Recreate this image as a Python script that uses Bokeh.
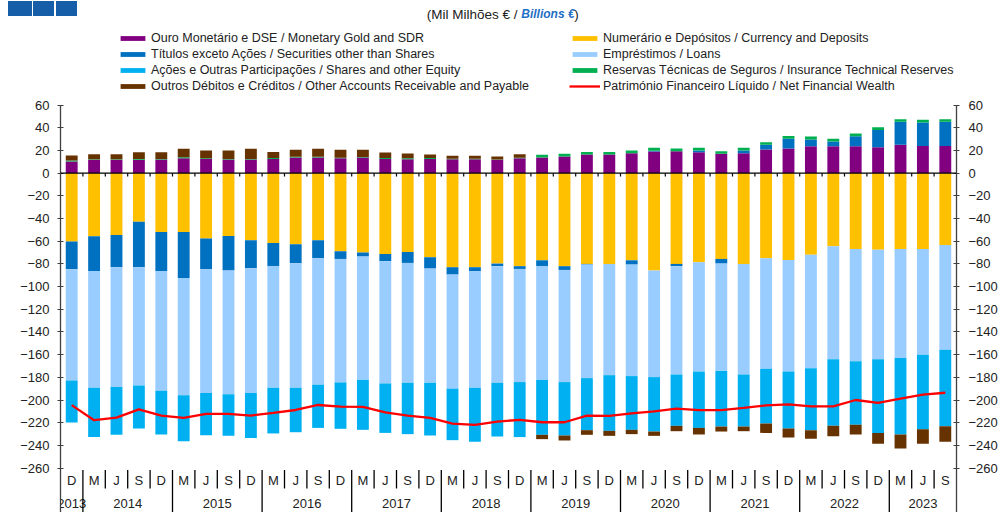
import numpy as np
from bokeh.plotting import figure
from bokeh.models import (Range1d, LinearAxis, FixedTicker, Legend, LegendItem,
                          ColumnDataSource, Span, InlineStyleSheet)
from bokeh.core.properties import value
from bokeh.embed import file_html
from bokeh.resources import INLINE

# ---------------- data (Mil Milhões € / Billions €) ----------------
quarters = ["D",
            "M", "J", "S", "D", "M", "J", "S", "D", "M", "J", "S", "D",
            "M", "J", "S", "D", "M", "J", "S", "D", "M", "J", "S", "D",
            "M", "J", "S", "D", "M", "J", "S", "D", "M", "J", "S", "D",
            "M", "J", "S"]
years = ["2013",
         "2014", "2014", "2014", "2014", "2015", "2015", "2015", "2015",
         "2016", "2016", "2016", "2016", "2017", "2017", "2017", "2017",
         "2018", "2018", "2018", "2018", "2019", "2019", "2019", "2019",
         "2020", "2020", "2020", "2020", "2021", "2021", "2021", "2021",
         "2022", "2022", "2022", "2022", "2023", "2023", "2023"]

ouro = [10.3, 11.8, 11.8, 11.8, 12.0, 13.2, 12.6, 12.0, 12.0, 12.6, 13.8, 13.8, 13.2,
        13.8, 12.6, 12.4, 12.6, 12.4, 12.4, 11.8, 13.2, 13.8, 14.7, 16.5, 16.5, 17.6,
        19.1, 19.4, 18.5, 17.1, 17.6, 20.9, 21.8, 23.8, 23.8, 23.8, 22.9, 25.0, 24.1, 24.1]
numerario = [-60.3, -55.6, -54.4, -42.9, -51.8, -51.8, -57.6, -55.3, -59.1, -61.5, -62.6,
             -59.1, -68.8, -70.0, -71.2, -69.4, -74.1, -82.9, -82.9, -79.7, -82.0, -76.8,
             -82.0, -80.0, -80.0, -76.8, -85.9, -80.0, -78.5, -75.6, -80.0, -75.0, -76.5,
             -71.8, -64.4, -66.8, -67.4, -66.8, -66.8, -63.2]
titulos = [-24.4, -30.6, -28.5, -40.0, -34.4, -40.6, -27.1, -30.6, -24.7, -20.3, -16.8,
           -15.9, -6.8, -3.5, -6.4, -9.7, -10.0, -6.5, -3.6, -2.3, -2.4, -5.0, -3.3, -0.6,
           0.0, -3.8, 0.6, -2.0, 1.5, -4.1, 2.4, 4.1, 8.5, 5.9, 4.1, 8.8, 15.3, 20.3, 20.6, 21.2]
emprestimos = [-98.0, -103.0, -105.7, -104.2, -105.6, -103.5, -109.2, -109.1, -110.1, -107.4,
               -109.8, -111.5, -108.9, -108.7, -107.8, -105.7, -100.7, -100.6, -102.7, -102.8,
               -99.8, -100.4, -98.9, -100.1, -98.1, -98.3, -93.9, -95.5, -96.4, -94.6, -97.5,
               -97.5, -98.4, -100.2, -99.6, -99.0, -96.6, -96.1, -93.2, -92.4]
acoes = [-37.2, -43.5, -42.1, -38.0, -38.6, -40.4, -37.1, -36.6, -39.7, -40.3, -39.2, -38.1,
         -40.9, -44.1, -43.6, -45.3, -46.5, -45.4, -47.6, -47.4, -48.5, -48.5, -47.1, -45.9,
         -49.1, -47.4, -48.0, -45.3, -49.7, -49.1, -45.9, -48.3, -50.2, -54.6, -58.8, -56.1,
         -65.2, -67.5, -65.7, -67.5]
reservas = [0.8, 0.5, 0.6, 0.8, 0.5, 0.8, 0.6, 0.5, 0.5, 0.8, 0.8, 0.8, 0.5, 0.5, 0.8, 0.8,
            0.8, 0.3, 0.3, 0.3, 0.5, 2.4, 2.4, 2.3, 2.3, 2.4, 2.7, 2.4, 2.4, 2.3, 2.4, 2.4,
            2.6, 2.7, 2.4, 2.4, 2.4, 2.3, 2.4, 2.3]
outros = [4.5, 4.5, 4.4, 5.9, 6.0, 7.5, 6.8, 7.5, 9.0, 5.4, 6.0, 6.9, 6.9, 6.3, 4.8, 4.2,
          3.1, 2.6, 2.6, 2.6, 3.1, -3.8, -4.4, -4.1, -4.4, -3.8, -3.8, -4.7, -5.8, -4.4,
          -4.1, -8.2, -7.9, -7.6, -9.1, -8.5, -9.4, -12.3, -12.9, -13.7]
patrimonio = [-204.5, -217.8, -215.5, -208.2, -213.7, -215.8, -212.3, -212.3, -213.7, -211.4,
              -208.8, -204.4, -205.8, -206.0, -211.0, -213.7, -215.8, -220.8, -221.9, -219.0,
              -217.5, -219.6, -219.6, -213.7, -214.0, -211.7, -210.0, -207.6, -209.0, -209.0,
              -207.0, -204.7, -203.8, -205.6, -205.6, -200.0, -202.6, -198.8, -195.3, -193.6]

yticks = [-260, -240, -220, -200, -180, -160, -140, -120, -100, -80, -60, -40, -20, 0, 20, 40, 60]

series = [
    ("Ouro Monetário e DSE / Monetary Gold and SDR", ouro, "#800080"),
    ("Numerário e Depósitos / Currency and Deposits", numerario, "#FFC000"),
    ("Títulos exceto Ações / Securities other than Shares", titulos, "#0070C0"),
    ("Empréstimos / Loans", emprestimos, "#99CCFF"),
    ("Ações e Outras Participações / Shares and other Equity", acoes, "#00B0F0"),
    ("Reservas Técnicas de Seguros / Insurance Technical Reserves", reservas, "#00B050"),
    ("Outros Débitos e Créditos / Other Accounts Receivable and Payable", outros, "#663300"),
]
line_label = "Património Financeiro Líquido / Net Financial Wealth"

FONT = "Liberation Sans"
n = len(quarters)
xc = np.arange(n) + 0.5

Y_BOT, Y_TOP = -299.2, 152.3
p = figure(width=1000, height=512, x_range=Range1d(0, n), y_range=Range1d(Y_BOT, Y_TOP),
           x_axis_type=None, y_axis_type=None, output_backend="svg",
           toolbar_location=None)
p.min_border = 0
p.min_border_left = 60
p.min_border_right = 42
p.min_border_top = 0
p.min_border_bottom = 0
p.outline_line_color = None
p.grid.visible = False
p.background_fill_color = None
p.border_fill_color = None

# decorative header squares (top-left), drawn as CSS background behind the canvas
logo_css = """
:host {
  background-color: #ffffff;
  background-image: linear-gradient(#175EA8, #175EA8), linear-gradient(#175EA8, #175EA8),
                    linear-gradient(#175EA8, #175EA8);
  background-size: 24px 15px, 21px 15px, 21px 15px;
  background-position: 8px 1px, 33px 1px, 56px 1px;
  background-repeat: no-repeat;
}
"""
p.stylesheets = [InlineStyleSheet(css=logo_css)]

# ---------------- stacked bars (positive/negative stacked separately) ----------------
pos_base = np.zeros(n)
neg_base = np.zeros(n)
renderers = {}
for label, vals, color in series:
    v = np.array(vals, dtype=float)
    bottom = np.where(v >= 0, pos_base, neg_base)
    top = bottom + v
    pos_base = np.where(v >= 0, top, pos_base)
    neg_base = np.where(v < 0, top, neg_base)
    src = ColumnDataSource(dict(x=xc, bottom=bottom, top=top))
    r = p.vbar(x="x", bottom="bottom", top="top", width=0.53, source=src,
               fill_color=color, line_color=None)
    renderers[label] = r

# zero line + small ticks between categories
p.add_layout(Span(location=0, dimension="width", line_color="#000000", line_width=1.2))
bx = np.arange(1, n)
p.segment(x0=bx, x1=bx, y0=np.zeros(n - 1), y1=np.full(n - 1, -2.8),
          line_color="#000000", line_width=1.2)

# net financial wealth
lr = p.line(xc, patrimonio, line_color="#FF0000", line_width=2.3)
renderers[line_label] = lr

# ---------------- axes ----------------
for side in ("left", "right"):
    ax = LinearAxis(ticker=FixedTicker(ticks=yticks), bounds=(Y_BOT, 60),
                    axis_line_color="#404040", axis_line_width=1.3,
                    major_tick_line_color="#404040", major_tick_in=3, major_tick_out=3,
                    minor_tick_line_color=None,
                    major_label_text_font=FONT, major_label_text_font_size="13px",
                    major_label_text_color="#222222",
                    major_label_standoff=8 if side == "left" else 9)
    p.add_layout(ax, side)

# ---------------- category labels (two levels) ----------------
p.text(x=xc, y=np.full(n, -271.0), text=quarters, text_align="center",
       text_baseline="middle", text_font=value(FONT), text_font_size="13px",
       text_color="#222222")
yr_names, yr_x = [], []
for yname in dict.fromkeys(years):
    idx = [i for i, yy in enumerate(years) if yy == yname]
    yr_names.append(yname)
    yr_x.append((idx[0] + idx[-1]) / 2 + 0.5)
p.text(x=yr_x, y=np.full(len(yr_x), -291.0), text=yr_names, text_align="center",
       text_baseline="middle", text_font=value(FONT), text_font_size="13px",
       text_color="#222222")
sep_x = np.arange(1, n)
sep_long = np.array([quarters[k] == "M" for k in range(1, n)])
p.segment(x0=sep_x, x1=sep_x, y0=np.full(n - 1, -261.7),
          y1=np.where(sep_long, Y_BOT, -278.0), line_color="#000000", line_width=1.3)

# ---------------- title ----------------
p.text(x=[20.57], y=[140.0], text=["(Mil Milhões € / "], text_align="right",
       text_baseline="middle", text_font=value(FONT), text_font_size="13.5px",
       text_color="#222222")
p.text(x=[20.57], y=[140.0], text=["Billions €"], text_align="left",
       text_baseline="middle", text_font=value(FONT), text_font_size="12px",
       text_font_style="bold italic", text_color="#1F6FC5")
p.text(x=[22.93], y=[140.0], text=[")"], text_align="left",
       text_baseline="middle", text_font=value(FONT), text_font_size="13.5px",
       text_color="#222222")

# ---------------- legends ----------------
col1 = [series[0][0], series[2][0], series[4][0], series[6][0]]
col2 = [series[1][0], series[3][0], series[5][0], line_label]
for cols, xloc in ((col1, 57), (col2, 509)):
    leg = Legend(items=[LegendItem(label=lab, renderers=[renderers[lab]]) for lab in cols],
                 location=(xloc, 419), orientation="vertical",
                 glyph_width=31, glyph_height=6, label_standoff=3, spacing=2,
                 label_height=12, padding=0, margin=0,
                 border_line_color=None, background_fill_alpha=0,
                 label_text_font=FONT, label_text_font_size="12.5px",
                 label_text_color="#222222", click_policy="none")
    p.add_layout(leg)

open("out.html", "w").write(file_html(p, INLINE))
